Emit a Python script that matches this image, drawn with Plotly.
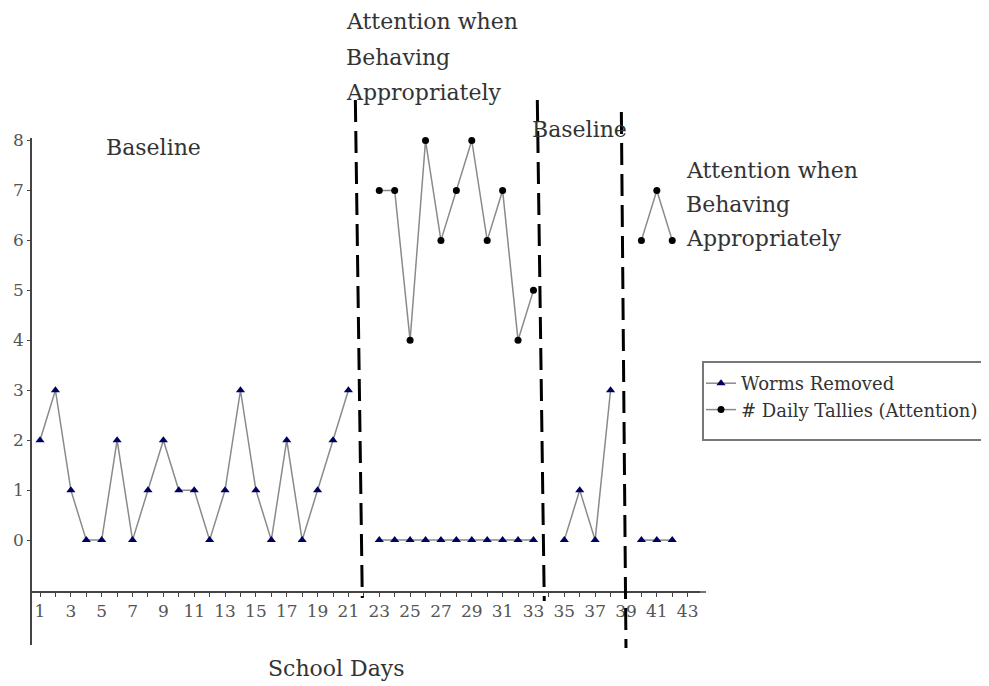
import plotly.graph_objects as go

# ---- data ----
days = list(range(1, 43))
worms_removed = [2, 3, 1, 0, 0, 2, 0, 1, 2, 1, 1, 0, 1, 3, 1, 0, 2, 0, 1, 2, 3,
                 None,
                 0, 0, 0, 0, 0, 0, 0, 0, 0, 0, 0,
                 None,
                 0, 1, 0, 3,
                 None,
                 0, 0, 0]
daily_tallies = ([None] * 22 +
                 [7, 7, 4, 8, 6, 7, 8, 6, 7, 4, 5] +
                 [None] * 6 +
                 [6, 7, 6])
x_tick_labels = list(range(1, 44, 2))
y_tick_labels = list(range(0, 9))
# phase change lines (day at top, day at bottom)
phase_changes = [(21.45, 21.9), (33.25, 33.7), (38.7, 39.0)]
phase_labels = ["Baseline", "Attention when\nBehaving\nAppropriately",
                "Baseline", "Attention when\nBehaving\nAppropriately"]

# ---- geometry (page pixels; the page body adds an 8px offset) ----
OFF = 8
W, H = 989, 686
PL, PR, PT, PB = 32, 700, 138, 645          # plot area on the page
L, T = PL - OFF, PT - OFF
R, B = W - (PR - OFF), H - (PB - OFF)
XR = [0.48, 43.8]
YR = [-2.1, 8.05]
PW, PH = PR - PL, PB - PT


def px_x(px):
    return (px - PL) / PW


def px_y(py):
    return (PB - py) / PH


def day_to_paper(d):
    return (d - XR[0]) / (XR[1] - XR[0])


FONT = "DejaVu Serif"
LINE_C = "#8a8a8a"

fig = go.Figure()
fig.add_trace(go.Scatter(
    x=days, y=worms_removed, mode="lines+markers", name="Worms Removed",
    line=dict(color=LINE_C, width=1.5),
    marker=dict(symbol="triangle-up", size=8, color="#000060"),
    connectgaps=False, cliponaxis=False))
fig.add_trace(go.Scatter(
    x=days, y=daily_tallies, mode="lines+markers", name="# Daily Tallies (Attention)",
    line=dict(color=LINE_C, width=1.5),
    marker=dict(symbol="circle", size=7, color="#000000"),
    connectgaps=False, cliponaxis=False))

shapes = []
tops = [100, 100, 112]
bottoms = [598, 601, 648]
for (d0, d1), t, b in zip(phase_changes, tops, bottoms):
    shapes.append(dict(type="line", xref="paper", yref="paper",
                       x0=day_to_paper(d0), y0=px_y(t),
                       x1=day_to_paper(d1), y1=px_y(b),
                       line=dict(color="black", width=3, dash="22px,9px")))
# legend box
shapes.append(dict(type="rect", xref="paper", yref="paper",
                   x0=px_x(703), x1=px_x(987), y0=px_y(440), y1=px_y(362),
                   line=dict(color="#777777", width=2), fillcolor="rgba(0,0,0,0)"))
# arrow tip at end of x axis
shapes.append(dict(type="line", xref="paper", yref="paper",
                   x0=1.0, x1=px_x(706), y0=px_y(592), y1=px_y(592),
                   line=dict(color="#444444", width=1.5)))

annotations = []


def add_text(txt, x, y, xanchor="left", size=22):
    annotations.append(dict(text=txt, xref="paper", yref="paper", x=px_x(x), y=px_y(y),
                            xanchor=xanchor, yanchor="middle", showarrow=False,
                            font=dict(family=FONT, size=size, color="#333333")))


add_text(phase_labels[0], 104, 147)
for i, line in enumerate(phase_labels[1].split("\n")):
    add_text(line, 344, 22 + 35 * i)
add_text(phase_labels[2], 530, 130)
for i, line in enumerate(phase_labels[3].split("\n")):
    add_text(line, 684, 170 + 34 * i)
add_text("School Days", 336, 668, xanchor="center")

fig.update_layout(
    width=W, height=H, autosize=False,
    margin=dict(l=L, r=R, t=T, b=B, pad=0),
    plot_bgcolor="white", paper_bgcolor="white",
    shapes=shapes, annotations=annotations,
    legend=dict(x=px_x(701), y=px_y(365), xanchor="left", yanchor="top",
                bgcolor="rgba(0,0,0,0)", borderwidth=0, itemwidth=30,
                font=dict(family=FONT, size=18, color="#333333"),
                tracegroupgap=0),
    xaxis=dict(range=XR, anchor="free", position=px_y(592), showgrid=False, zeroline=False,
               automargin=False,
               showline=True, linecolor="#444444", linewidth=1.5,
               tickmode="array", tickvals=x_tick_labels, ticktext=[str(v) for v in x_tick_labels],
               ticks="outside", ticklen=4, tickcolor="#444444",
               minor=dict(tickmode="linear", tick0=0, dtick=1, ticks="outside", ticklen=4,
                          tickcolor="#444444"),
               tickfont=dict(family=FONT, size=17, color="#555555")),
    yaxis=dict(range=YR, showgrid=False, zeroline=False, automargin=False,
               showline=True, linecolor="#444444", linewidth=1.5,
               tickmode="array", tickvals=y_tick_labels, ticktext=[str(v) for v in y_tick_labels],
               ticks="outside", ticklen=3, tickcolor="#444444",
               tickfont=dict(family=FONT, size=17, color="#555555")),
)

fig.write_html("out.html")
